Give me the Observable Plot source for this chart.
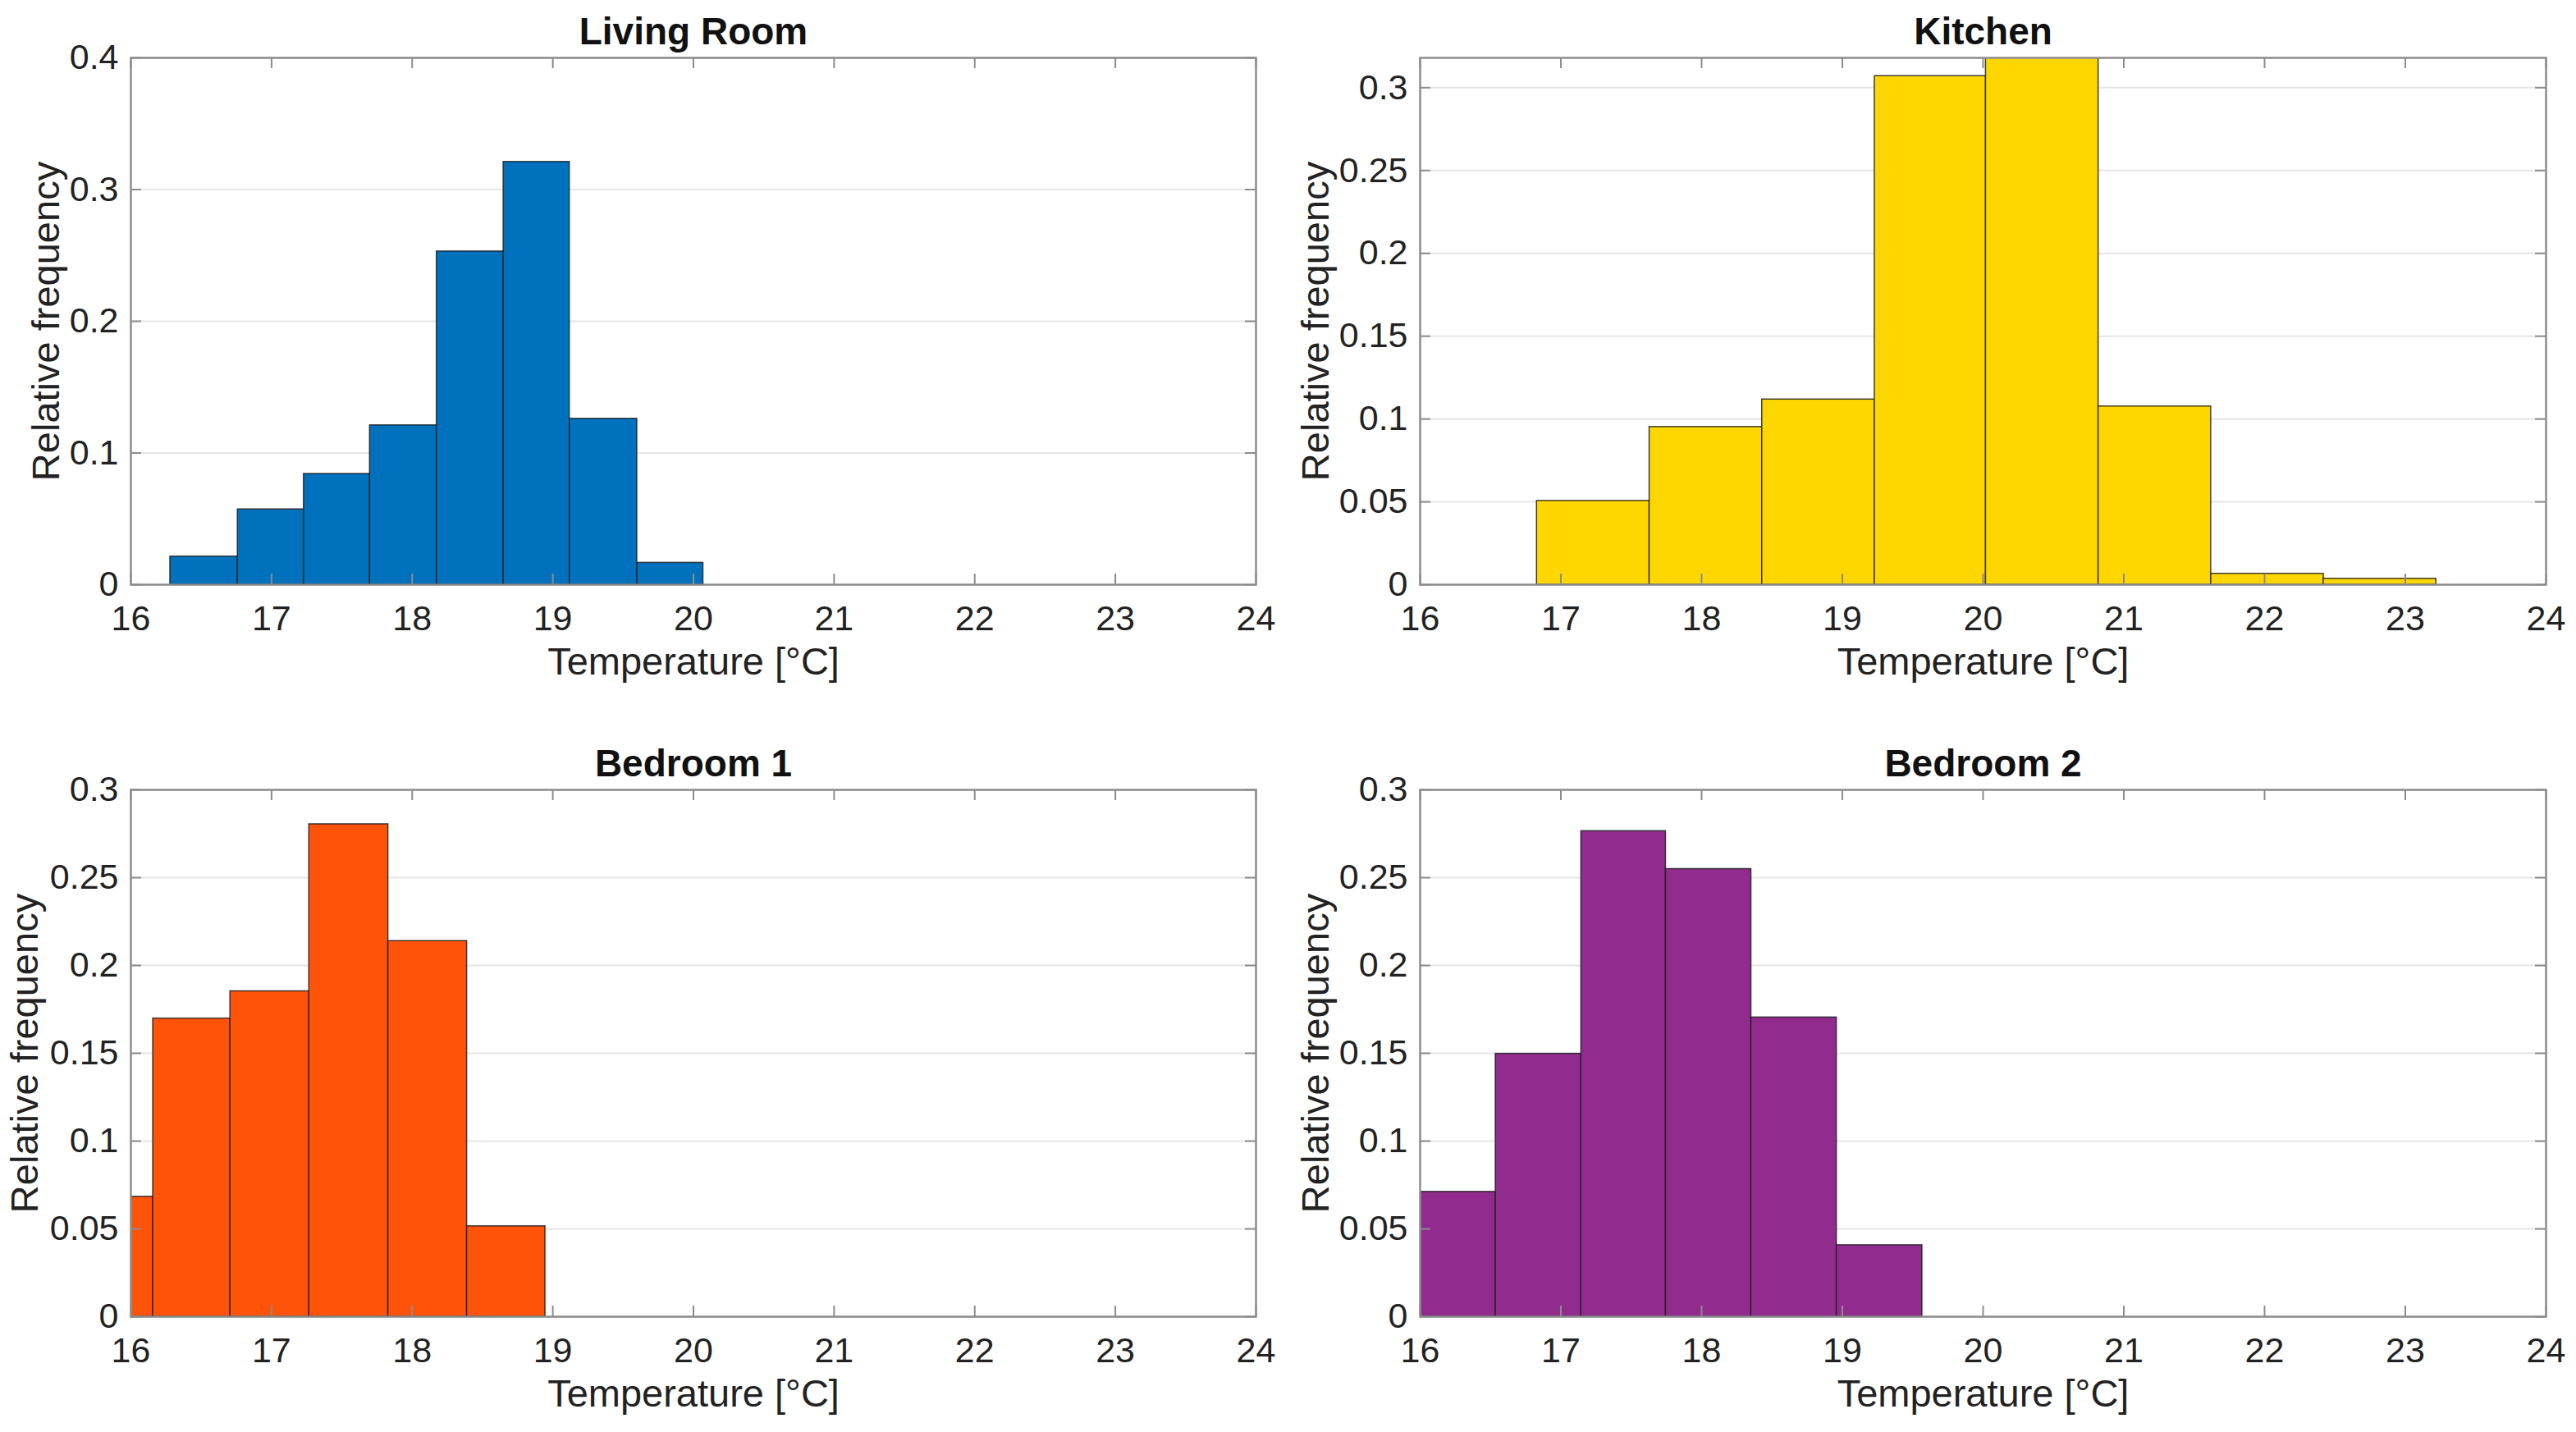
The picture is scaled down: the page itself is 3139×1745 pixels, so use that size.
<!DOCTYPE html>
<html>
<head>
<meta charset="utf-8">
<script src="https://cdn.jsdelivr.net/npm/d3@7"></script>
<script src="https://cdn.jsdelivr.net/npm/@observablehq/plot@0.6"></script>
<style>
  html, body { margin: 0; padding: 0; background: #fff; }
  #page { position: relative; width: 3139px; height: 1745px; background: #fff; }
  .panel { position: absolute; }
  .panel svg { display: block; }
</style>
</head>
<body>
<div id="page"></div>
<script>
// ---- Data ----
const temperatureTicks = [16, 17, 18, 19, 20, 21, 22, 23, 24];
const xLabel = "Temperature [°C]";
const yLabel = "Relative frequency";

const livingRoomEdges = [16.28, 16.76, 17.23, 17.70, 18.175, 18.65, 19.12, 19.60, 20.07];
const livingRoomFreq  = [0.0214, 0.0572, 0.0841, 0.121, 0.253, 0.321, 0.126, 0.0166];
const livingRoomTicks = [0, 0.1, 0.2, 0.3, 0.4];

const kitchenEdges = [16.83, 17.63, 18.43, 19.23, 20.02, 20.82, 21.62, 22.42, 23.22];
const kitchenFreq  = [0.0506, 0.0952, 0.1118, 0.307, 0.318, 0.1076, 0.0066, 0.0036];
const kitchenTicks = [0, 0.05, 0.1, 0.15, 0.2, 0.25, 0.3];

const bedroom1Edges = [15.60, 16.158, 16.707, 17.268, 17.83, 18.39, 18.947];
const bedroom1Freq  = [0.0683, 0.1698, 0.1853, 0.2804, 0.2139, 0.0515];
const bedroom1Ticks = [0, 0.05, 0.1, 0.15, 0.2, 0.25, 0.3];

const bedroom2Edges = [15.93, 16.537, 17.145, 17.746, 18.353, 18.96, 19.568];
const bedroom2Freq  = [0.0711, 0.1497, 0.2765, 0.2549, 0.1704, 0.0407];
const bedroom2Ticks = [0, 0.05, 0.1, 0.15, 0.2, 0.25, 0.3];

const panels = [
  {title: "Living Room", edges: livingRoomEdges, freq: livingRoomFreq, yTicks: livingRoomTicks, yMax: 0.4,
   color: "#0072BD", left: 0, top: 0, width: 1570, height: 870, mt: 70, ml: 159, mr: 40, mb: 158, labelOffset: 121},
  {title: "Kitchen", edges: kitchenEdges, freq: kitchenFreq, yTicks: kitchenTicks, yMax: 0.318,
   color: "#FFD700", left: 1570, top: 0, width: 1569, height: 870, mt: 70, ml: 160, mr: 37, mb: 158, labelOffset: 145},
  {title: "Bedroom 1", edges: bedroom1Edges, freq: bedroom1Freq, yTicks: bedroom1Ticks, yMax: 0.3,
   color: "#FF5309", left: 0, top: 870, width: 1570, height: 875, mt: 92, ml: 159, mr: 40, mb: 141, labelOffset: 147},
  {title: "Bedroom 2", edges: bedroom2Edges, freq: bedroom2Freq, yTicks: bedroom2Ticks, yMax: 0.3,
   color: "#922B8E", left: 1570, top: 870, width: 1569, height: 875, mt: 92, ml: 160, mr: 37, mb: 141, labelOffset: 145}
];

const axisGray = "#8c8c8c";
const fmt = d => String(d);

const page = document.getElementById("page");
for (const p of panels) {
  const bins = p.freq.map((f, i) => ({x1: p.edges[i], x2: p.edges[i + 1], y: f}));
  const pw = p.width - p.ml - p.mr;
  const ph = p.height - p.mt - p.mb;
  const tickLen = 13;
  const chart = Plot.plot({
    width: p.width,
    height: p.height,
    marginTop: p.mt, marginLeft: p.ml, marginRight: p.mr, marginBottom: p.mb,
    style: {fontFamily: "'Liberation Sans', Arial, Helvetica, sans-serif", fontSize: "43px", color: "#222", background: "#fff", overflow: "visible"},
    x: {domain: [16, 24]},
    y: {domain: [0, p.yMax]},
    marks: [
      Plot.ruleY(p.yTicks, {y: d => d, stroke: "#e6e6e6", strokeWidth: 2}),
      Plot.rectY(bins, {x1: "x1", x2: "x2", y1: 0, y2: "y", fill: p.color, stroke: "#1e1e1e", strokeWidth: 1.5, strokeOpacity: 0.85, clip: true}),
      Plot.frame({stroke: axisGray, strokeWidth: 2.5}),
      Plot.tickX(temperatureTicks, {x: d => d, insetTop: ph - tickLen, stroke: axisGray, strokeWidth: 2}),
      Plot.tickX(temperatureTicks, {x: d => d, insetBottom: ph - tickLen, stroke: axisGray, strokeWidth: 2}),
      Plot.tickY(p.yTicks, {y: d => d, insetRight: pw - tickLen, stroke: axisGray, strokeWidth: 2}),
      Plot.tickY(p.yTicks, {y: d => d, insetLeft: pw - tickLen, stroke: axisGray, strokeWidth: 2}),
      Plot.axisX({ticks: temperatureTicks, tickSize: 0, tickPadding: 25, tickFormat: fmt, label: null, fill: "#222"}),
      Plot.axisY({ticks: p.yTicks, tickSize: 0, tickPadding: 15, tickFormat: fmt, label: null, fill: "#222"}),
      Plot.text([xLabel], {text: d => d, frameAnchor: "bottom", lineAnchor: "bottom", dy: 109,
        fontSize: 47, fill: "#222"}),
      Plot.text([yLabel], {text: d => d, frameAnchor: "left", textAnchor: "middle", lineAnchor: "top", rotate: -90, dx: -p.labelOffset,
        fontSize: 47, fill: "#222"}),
      Plot.text([p.title], {text: d => d, frameAnchor: "top", lineAnchor: "bottom", dy: -17,
        fontWeight: "bold", fontSize: 46, fill: "#111"})
    ]
  });
  const div = document.createElement("div");
  div.className = "panel";
  div.style.left = p.left + "px";
  div.style.top = p.top + "px";
  div.appendChild(chart);
  page.appendChild(div);
}
</script>
</body>
</html>
